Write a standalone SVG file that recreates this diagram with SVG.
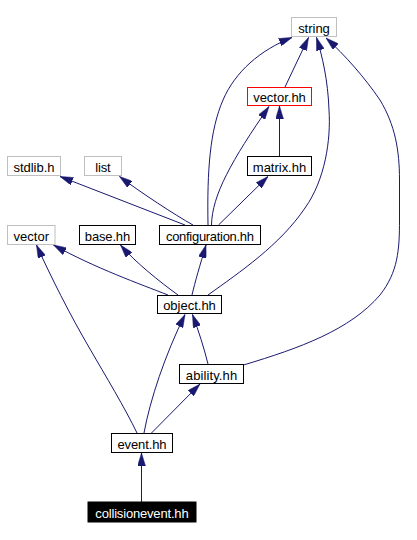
<svg xmlns="http://www.w3.org/2000/svg" width="417" height="540" viewBox="0 0 417 540">
<style>
  .n rect { fill: #ffffff; stroke: #000000; stroke-width: 1; }
  .n.g rect { stroke: #bfbfbf; }
  .n.r rect { stroke: #ff0000; }
  .n.cur rect { fill: #000000; stroke: #000000; }
  .n text { font-family: "Liberation Sans", Arial, sans-serif; font-size: 13px; fill: #000000; text-anchor: middle; }
  .n.cur text { fill: #ffffff; }
  .e path { fill: none; stroke: #191970; stroke-width: 1; marker-end: url(#arr); }
</style>
<defs>
  <marker id="arr" markerUnits="userSpaceOnUse" markerWidth="13" markerHeight="8" viewBox="0 0 13 8" refX="13" refY="4" orient="auto">
    <path d="M0,0 L13,4 L0,8 z" fill="#191970" stroke="#191970" stroke-width="0.5"/>
  </marker>
</defs>
<rect width="417" height="540" fill="#ffffff"/>
<g id="edges" class="e">
  <path d="M285,87 L308.5,37.5"/>
  <path d="M279.5,156 L279.5,106"/>
  <path d="M211.5,225 C212,195 232,160 269,106.5"/>
  <path d="M208,225 C207,170 210,130 223,100 C235,72 260,50 292,37.5"/>
  <path d="M218.5,225 L268,176.5"/>
  <path d="M185,225 L60,176.5"/>
  <path d="M193,225 C175,215 140,192 119.5,176.5"/>
  <path d="M208,295 C240,272 280,245 305,208 C325,180 331,140 329,110 C328,80 322,55 316.5,37.5"/>
  <path d="M243.5,365 C300,348 350,330 380,295 C398,272 399.5,250 399.5,220 L399.5,180 C399.5,150 395,125 380,100 C365,78 345,55 326,38"/>
  <path d="M192,295 C195,282 200,265 206,245"/>
  <path d="M178,295 C160,282 135,262 120.5,245"/>
  <path d="M168,295 C140,284 95,268 53.5,245"/>
  <path d="M137,433 C125,408 105,375 90,349 C70,315 50,275 36.5,245"/>
  <path d="M144,433 C150,400 165,355 185,314.5"/>
  <path d="M208,364 C204,348 199,332 192.5,314.5"/>
  <path d="M151.5,433 L200,384"/>
  <path d="M141.5,502 L141.5,453"/>
</g>
<g id="string" class="n g"><rect x="291.5" y="17.5" width="45" height="19"/><text x="314" y="32.5" textLength="31.7">string</text></g>
<g id="vector_hh" class="n r"><rect x="247.5" y="87.5" width="64" height="18"/><text x="279.5" y="102" textLength="52.7">vector.hh</text></g>
<g id="matrix_hh" class="n"><rect x="247.5" y="156.5" width="64" height="19"/><text x="279.5" y="171.5" textLength="53.3">matrix.hh</text></g>
<g id="stdlib_h" class="n g"><rect x="7.5" y="156.5" width="53" height="19"/><text x="34" y="171.5" textLength="41">stdlib.h</text></g>
<g id="list" class="n g"><rect x="84.5" y="156.5" width="37" height="19"/><text x="103" y="171.5" textLength="15.3">list</text></g>
<g id="vector" class="n g"><rect x="7.5" y="225.5" width="47.5" height="19"/><text x="31.25" y="240.5" textLength="35.7">vector</text></g>
<g id="base_hh" class="n"><rect x="79.5" y="225.5" width="56" height="19"/><text x="107.5" y="240.5" textLength="45.3">base.hh</text></g>
<g id="configuration_hh" class="n"><rect x="159.5" y="225.5" width="101" height="19"/><text x="210" y="240.5" textLength="88">configuration.hh</text></g>
<g id="object_hh" class="n"><rect x="157.5" y="295.5" width="64" height="18"/><text x="189.5" y="310" textLength="52.7">object.hh</text></g>
<g id="ability_hh" class="n"><rect x="179.5" y="364.5" width="64" height="19"/><text x="211.5" y="379.5" textLength="51.3">ability.hh</text></g>
<g id="event_hh" class="n"><rect x="111.5" y="433.5" width="61" height="19"/><text x="142" y="448.5" textLength="49">event.hh</text></g>
<g id="collisionevent_hh" class="n cur"><rect x="88" y="502" width="108" height="20"/><text x="142" y="517.5" textLength="93.3">collisionevent.hh</text></g>
</svg>
